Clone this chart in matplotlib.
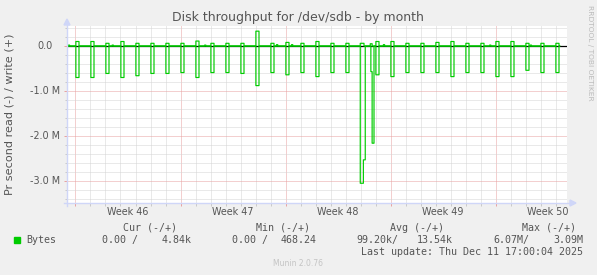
import numpy as np
import matplotlib
matplotlib.use("Agg")
import matplotlib.pyplot as plt
from matplotlib.lines import Line2D
from matplotlib.patches import Polygon, Rectangle

# ---------------- data (days relative to start of week 47, values in MB/s) -------------
spike_days = list(range(-7, 26))
read_peaks = [0.70, 0.70, 0.61, 0.70, 0.66, 0.61, 0.61, 0.59, 0.70, 0.59, 0.59, 0.61,
              0.88, 0.59, 0.64, 0.59, 0.68, 0.59, 0.59, 0.00, 0.64, 0.68, 0.59, 0.59,
              0.59, 0.68, 0.59, 0.59, 0.68, 0.68, 0.54, 0.59, 0.59]
write_peaks = [0.10, 0.10, 0.06, 0.10, 0.06, 0.06, 0.06, 0.06, 0.11, 0.06, 0.06, 0.06,
               0.33, 0.06, 0.08, 0.06, 0.10, 0.06, 0.06, 0.06, 0.10, 0.10, 0.06, 0.06,
               0.08, 0.10, 0.06, 0.06, 0.10, 0.10, 0.06, 0.06, 0.06]
# large read burst around day 12: (start, end, read MB/s)
burst_start = [11.97, 12.19, 12.68, 12.79]
burst_end = [12.19, 12.30, 12.79, 12.90]
burst_read = [3.05, 2.53, 0.57, 2.16]
burst_write_start = [11.97, 12.66]
burst_write_end = [12.19, 12.79]
burst_write = [0.06, 0.05]
# small write blips
blip_days = [-7.5, -4.57, 1.6, 6.4, 7.4, 13.5, 20.6, 23.3]
blip_write = [0.02, 0.02, 0.02, 0.03, 0.03, 0.03, 0.02, 0.02]

week_labels = ["Week 46", "Week 47", "Week 48", "Week 49", "Week 50"]
week_centers = [-3.5, 3.5, 10.5, 17.5, 24.5]
ytick_vals = [0.0, -1.0, -2.0, -3.0]
ytick_text = ["0.0", "-1.0 M", "-2.0 M", "-3.0 M"]

legend_headers = ["Cur (-/+)", "Min (-/+)", "Avg (-/+)", "Max (-/+)"]
legend_left = ["0.00 /", "0.00 /", "99.20k/", "6.07M/"]
legend_right = ["4.84k", "468.24", "13.54k", "3.09M"]

# ---------------- build series ----------------
step = 1 / 24
t = np.arange(-7.6, 25.3, step)
read = np.zeros_like(t)
write = np.zeros_like(t)
for d, r, w in zip(spike_days, read_peaks, write_peaks):
    m = (t >= d - 1e-9) & (t < d + 0.2)
    read[m] = np.maximum(read[m], r)
    write[m] = np.maximum(write[m], w)
for s, e, r in zip(burst_start, burst_end, burst_read):
    m = (t >= s - step / 2) & (t < e - step / 2)
    read[m] = r
for s, e, w in zip(burst_write_start, burst_write_end, burst_write):
    m = (t >= s - step / 2) & (t < e - step / 2)
    write[m] = w
for d, w in zip(blip_days, blip_write):
    m = (t >= d) & (t < d + 0.08)
    write[m] = np.maximum(write[m], w)

# ---------------- figure ----------------
W, H = 597, 275
fig = plt.figure(figsize=(W / 100, H / 100), dpi=100, facecolor="#F0F0F0")
L, R, T, B = 67, 567, 26, 203
ax = fig.add_axes([L / W, 1 - B / H, (R - L) / W, (B - T) / H])
ax.set_facecolor("white")

X0, XS = 180.5, 15.0   # px of day 0, px per day
Y0, YS = 46.0, 45.0    # px of 0, px per MB
ax.set_xlim((L - X0) / XS, (R - X0) / XS)
ax.set_ylim(-(B - Y0) / YS * 1e6, (Y0 - T) / YS * 1e6)

for s in ax.spines.values():
    s.set_visible(False)

major_x = [-7, 0, 7, 14, 21]
minor_x = [d for d in range(-7, 26) if d not in major_x]
ax.set_xticks(major_x)
ax.set_xticks(minor_x, minor=True)
major_y = [v * 1e6 for v in ytick_vals]
minor_y = [round(v, 1) * 1e6 for v in np.arange(-3.4, 0.41, 0.2)]
minor_y = [v for v in minor_y if all(abs(v - m) > 1 for m in major_y)]
ax.set_yticks(major_y)
ax.set_yticks(minor_y, minor=True)
ax.tick_params(which="both", labelbottom=False, labelleft=False, direction="out", width=0.7)
ax.tick_params(which="major", length=2.5, color="#E8A0A0")
ax.tick_params(which="minor", length=1.8, color="#C8C8C8")
ax.grid(which="minor", color="#D4D4D4", linestyle=(0, (1, 1)), linewidth=0.72)
ax.grid(which="major", color="#E8A0A0", linestyle=(0, (1, 1)), linewidth=0.72)
ax.set_axisbelow(True)

ax.axhline(0, color="black", lw=0.9, zorder=2)
green = "#00CC00"
ax.plot(t, -read * 1e6, color=green, lw=0.85, drawstyle="steps-post", zorder=3)
ax.plot(t, write * 1e6, color=green, lw=0.85, drawstyle="steps-post", zorder=3)

# axes lines with arrows (figure pixel coords)
def fx(x):
    return x / W

def fy(y):
    return 1 - y / H

axis_col = "#CFD6F8"
fig.add_artist(Line2D([fx(L), fx(L)], [fy(B + 3), fy(24)], color=axis_col, lw=1.0))
fig.add_artist(Line2D([fx(L - 3), fx(572)], [fy(B), fy(B)], color=axis_col, lw=1.0))
fig.add_artist(Polygon([[fx(L - 3), fy(25)], [fx(L + 3), fy(25)], [fx(L), fy(19)]],
                       closed=True, color=axis_col, transform=fig.transFigure))
fig.add_artist(Polygon([[fx(570), fy(B - 3)], [fx(570), fy(B + 3)], [fx(576), fy(B)]],
                       closed=True, color=axis_col, transform=fig.transFigure))

txt = "#555555"

def ftext(x, y, s, **kw):
    kw.setdefault("color", txt)
    kw.setdefault("va", "center")
    return fig.text(fx(x), fy(y), s, **kw)

ftext(298, 18, "Disk throughput for /dev/sdb - by month", ha="center", fontsize=9,
      family="DejaVu Sans")
ftext(10, 114, "Pr second read (-) / write (+)", ha="center", rotation=90, fontsize=8.1)
for v, s in zip(ytick_vals, ytick_text):
    xr = 53 if s == "0.0" else 60
    ftext(xr, Y0 - YS * v, s, ha="right", fontsize=6.9)
for c, s in zip(week_centers, week_labels):
    ftext(X0 + XS * c, 212, s, ha="center", fontsize=6.9)
ftext(590, 53, "RRDTOOL / TOBI OETIKER", ha="center", rotation=270, fontsize=5.4,
      color="#BBBBBB")

mono = dict(family="DejaVu Sans Mono", fontsize=7.2)
head_x = [150, 283, 416.5, 549.5]
left_x = [102, 232, 356, 493]
right_x = [192, 317, 453, 583]
for hx, s in zip(head_x, legend_headers):
    ftext(hx, 228, s, ha="center", **mono)
fig.add_artist(Rectangle((fx(14), fy(243)), 6 / W, 6 / H, color=green,
                         transform=fig.transFigure))
ftext(26, 240, "Bytes", ha="left", **mono)
for lx, rx, a, b in zip(left_x, right_x, legend_left, legend_right):
    ftext(lx, 240, a, ha="left", **mono)
    ftext(rx, 240, b, ha="right", **mono)
ftext(583, 252, "Last update: Thu Dec 11 17:00:04 2025", ha="right", **mono)
ftext(298, 264, "Munin 2.0.76", ha="center", fontsize=5.5, color="#C4C4C4")

fig.savefig("out.png", dpi=100, facecolor=fig.get_facecolor())
